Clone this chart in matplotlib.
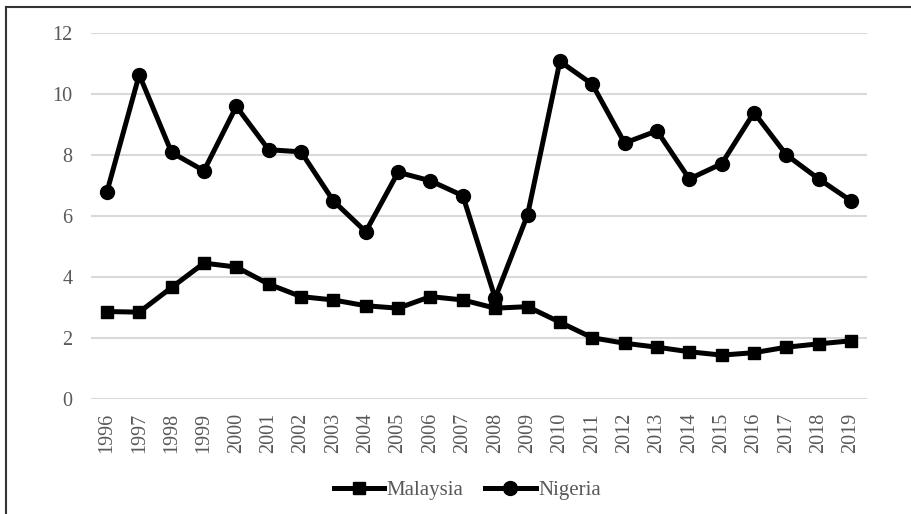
import matplotlib
matplotlib.use("Agg")
import matplotlib.pyplot as plt
from matplotlib.lines import Line2D

years = [str(y) for y in range(1996, 2020)]
malaysia = [2.87, 2.85, 3.66, 4.46, 4.33, 3.77, 3.36, 3.25, 3.06, 2.98, 3.36, 3.25,
            2.98, 3.03, 2.52, 2.01, 1.83, 1.70, 1.55, 1.44, 1.52, 1.70, 1.81, 1.91]
nigeria = [6.79, 10.64, 8.09, 7.49, 9.60, 8.18, 8.11, 6.50, 5.49, 7.44, 7.16, 6.67,
           3.31, 6.04, 11.08, 10.33, 8.40, 8.80, 7.22, 7.72, 9.40, 8.01, 7.22, 6.50]
yticks = [0, 2, 4, 6, 8, 10, 12]

plt.rcParams['font.family'] = ['Liberation Serif', 'DejaVu Serif']
W, H = 912, 514
fig = plt.figure(figsize=(W / 100, H / 100), dpi=100)
ax = fig.add_axes([90.7 / W, 1 - 399 / H, (867.3 - 90.7) / W, (399 - 33.3) / H])

x = list(range(len(years)))
ax.plot(x, malaysia, color='black', lw=3.6, marker='s', ms=8.5, label='Malaysia',
        solid_joinstyle='miter', zorder=3)
ax.plot(x, nigeria, color='black', lw=3.6, marker='o', ms=10, label='Nigeria', zorder=4)

ax.set_xlim(-0.5, len(years) - 0.5)
ax.set_ylim(0, 12)
ax.set_yticks(yticks)
ax.set_yticklabels([str(v) for v in yticks])
ax.set_xticks(x)
ax.set_xticklabels(years, rotation=90)
ax.grid(axis='y', color='#d9d9d9', lw=1.5)
ax.set_axisbelow(True)
for s in ax.spines.values():
    s.set_visible(False)
ax.tick_params(axis='both', length=0, labelsize=14.5, colors='#595959')
ax.tick_params(axis='y', pad=13)
ax.tick_params(axis='x', pad=10)

leg = fig.legend(loc='center', bbox_to_anchor=(467.5 / W, 1 - 490 / H), ncol=2, frameon=False,
                 fontsize=15, handlelength=2.4, handletextpad=0.15, columnspacing=1.05,
                 borderpad=0, borderaxespad=0)
for t in leg.get_texts():
    t.set_color('#595959')

# outer frame
fig.add_artist(Line2D([6 / W, 6 / W], [0, 1 - 7 / H], transform=fig.transFigure, color='#333333', lw=1.5))
fig.add_artist(Line2D([6 / W, 1], [1 - 7 / H, 1 - 7 / H], transform=fig.transFigure, color='#333333', lw=1.5))

fig.savefig('out.png', dpi=100)
